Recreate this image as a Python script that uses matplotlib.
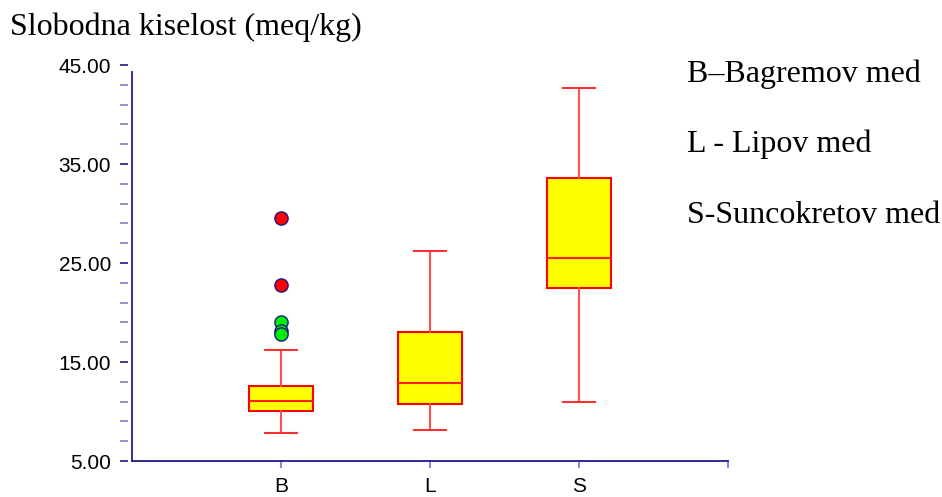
import matplotlib
matplotlib.use('Agg')
import matplotlib.pyplot as plt
import numpy as np

groups = ['B', 'L', 'S']
q1 = [10.02, 10.79, 22.47]
med = [11.09, 12.88, 25.47]
q3 = [12.58, 18.00, 33.59]
whislo = [7.80, 8.16, 10.96]
whishi = [16.18, 26.18, 42.65]
# outliers (only B has them): mild ones green, extreme ones red
mild_B = [19.0, 18.15, 17.8]
extreme_B = [29.58, 22.78]

legend_lines = ['B\u2013Bagremov med', 'L - Lipov med', 'S-Suncokretov med']
title = 'Slobodna kiselost (meq/kg)'

navy = '#1a1a8c'
fig = plt.figure(figsize=(9.42, 4.97), dpi=100)
ax = fig.add_axes([0.1401, 0.0724, 0.6327, 0.7968])

# spine setup first: set_position resets the tick styling
for s in ['top', 'right']:
    ax.spines[s].set_visible(False)
ax.spines['left'].set_visible(False)
ax.spines['left'].set_position(('outward', 3))
ax.spines['bottom'].set_color(navy)
ax.spines['bottom'].set_linewidth(1.3)

stats = []
for i in range(len(groups)):
    stats.append({'label': groups[i], 'q1': q1[i], 'med': med[i], 'q3': q3[i],
                  'whislo': whislo[i], 'whishi': whishi[i], 'fliers': []})

pos = np.arange(1, len(groups) + 1)
ax.bxp(stats, positions=pos, widths=0.435, patch_artist=True, showfliers=False,
       boxprops=dict(facecolor='#ffff00', edgecolor='#ff0000', linewidth=1.5),
       medianprops=dict(color='#ff2020', linewidth=1.5),
       whiskerprops=dict(color='#ff5050', linewidth=1.5),
       capprops=dict(color='#ff3030', linewidth=1.5))

ax.plot([1] * len(mild_B), mild_B, 'o', ms=9.5, mfc='#00ee00', mec=navy, mew=1)
ax.plot([1] * len(extreme_B), extreme_B, 'o', ms=9.5, mfc='#ff0000', mec=navy, mew=1)

ax.set_xlim(0, 4)
ax.set_ylim(5, 45)
ax.set_yticks(np.arange(5, 46, 10))
ax.set_yticklabels(['%.2f' % v for v in np.arange(5, 46, 10)])
ax.set_yticks(np.arange(5, 45, 2), minor=True)
ax.set_xticks(list(pos) + [4])
ax.set_xticklabels(groups + [''])

ax.axvline(0, ymin=0, ymax=0.982, color=navy, lw=1.3, clip_on=False)

ax.tick_params(axis='both', labelsize=15, labelfontfamily='Liberation Sans')
ax.tick_params(axis='y', which='major', length=5.5, color=navy, width=1.2, pad=6.5)
ax.tick_params(axis='y', which='minor', length=5.5, color='#8080c0', width=1.2)
ax.tick_params(axis='x', length=5, color='#8080c8', width=1.3, pad=6.5)

fig.text(0.0106, 0.9296, title, family='Liberation Serif', fontsize=23, va='baseline')
ys = [0.8344, 0.6948, 0.5513]
for t, y in zip(legend_lines, ys):
    fig.text(0.729, y, t, family='Liberation Serif', fontsize=23, va='baseline')

fig.savefig('out.png', dpi=100)
